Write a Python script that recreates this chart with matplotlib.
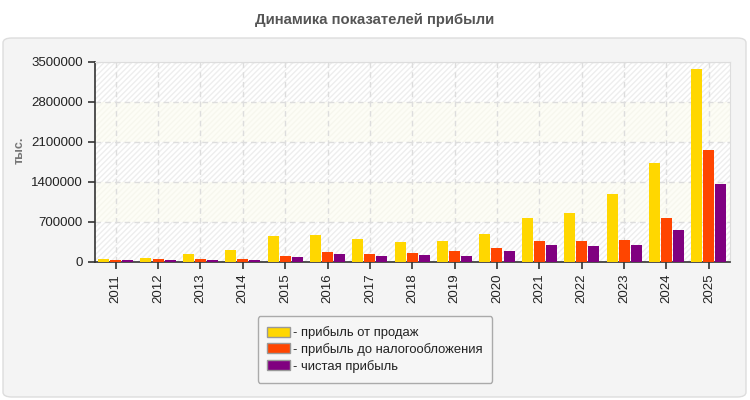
import matplotlib.pyplot as plt
from matplotlib.patches import FancyBboxPatch, Patch
import numpy as np

years = [2011, 2012, 2013, 2014, 2015, 2016, 2017, 2018, 2019, 2020,
         2021, 2022, 2023, 2024, 2025]
sales_profit = [58000, 76000, 146000, 216000, 461000, 478000, 408000, 356000,
                373000, 496000, 776000, 863000, 1196000, 1738000, 3383000]
pretax_profit = [41000, 58000, 58000, 58000, 111000, 181000, 146000, 163000,
                 198000, 251000, 373000, 373000, 391000, 776000, 1966000]
net_profit = [41000, 41000, 41000, 41000, 93000, 146000, 111000, 128000,
              111000, 198000, 303000, 286000, 303000, 566000, 1371000]
series_names = ["- прибыль от продаж", "- прибыль до налогообложения", "- чистая прибыль"]
colors = ["#FFD700", "#FF4500", "#800080"]
yticks = [0, 700000, 1400000, 2100000, 2800000, 3500000]

plt.rcParams['font.family'] = ['Liberation Sans', 'DejaVu Sans']

fig = plt.figure(figsize=(7.5, 4), dpi=100)
fig.patch.set_facecolor("white")

# серая подложка с закруглёнными углами
panel = FancyBboxPatch((3 / 750, 3 / 400), 743 / 750, 359 / 400,
                       boxstyle="round,pad=0,rounding_size=0.012",
                       transform=fig.transFigure, facecolor="#f4f4f4",
                       edgecolor="#dddddd", linewidth=1, zorder=-10)
fig.patches.append(panel)

fig.text(0.5, 1 - 20 / 400, "Динамика показателей прибыли", ha="center", va="center",
         fontsize=10.7, fontweight="bold", color="#555555")

ax = fig.add_axes([94.5 / 750, 1 - 262 / 400, 635.5 / 750, 200 / 400])
ax.set_facecolor("white")

# полосы фона: штриховка и светло-жёлтые
for i in range(len(yticks) - 1):
    if i % 2 == 0:
        ax.axhspan(yticks[i], yticks[i + 1], facecolor="white", edgecolor="#eeeeee",
                   hatch="//////", linewidth=0, zorder=0)
    else:
        ax.axhspan(yticks[i], yticks[i + 1], facecolor="#fdfdf6", edgecolor="#f7f7ee",
                   hatch="//////", linewidth=0, zorder=0)

x = np.arange(len(years))
w = 0.26
step = 0.285
for k, vals in enumerate([sales_profit, pretax_profit, net_profit]):
    ax.bar(x + (k - 1) * step, vals, width=w, color=colors[k], zorder=3)

ax.set_xlim(-0.5, len(years) - 0.5)
ax.set_ylim(0, 3500000)
ax.set_yticks(yticks)
ax.set_yticklabels([str(v) for v in yticks])
ax.set_xticks(x)
ax.set_xticklabels([str(y) for y in years], rotation=90)
ax.tick_params(axis="both", labelsize=9.5, colors="#333333", length=5, width=1.2, labelcolor="#222222")

ax.grid(True, color="#dddddd", linestyle=(0, (4, 3)), linewidth=1, zorder=1)
ax.set_axisbelow(True)

for s in ["top", "right"]:
    ax.spines[s].set_color("#dddddd")
for s in ["left", "bottom"]:
    ax.spines[s].set_color("#333333")
    ax.spines[s].set_linewidth(1.2)

ax.set_ylabel("тыс.", fontsize=9, fontweight="bold", color="#777777")
ax.yaxis.set_label_coords(-0.108, 0.56)

handles = [Patch(facecolor=c, edgecolor="#999999", linewidth=1) for c in colors]
leg = fig.legend(handles, series_names, loc="center", bbox_to_anchor=(375 / 750, 1 - 349.5 / 400),
                 fontsize=9.4, frameon=True, fancybox=True, handlelength=1.7, handleheight=0.8,
                 handletextpad=0.25, labelspacing=0.3, borderpad=0.75)
leg.get_frame().set_facecolor("#f6f6f6")
leg.get_frame().set_edgecolor("#aaaaaa")
leg.get_frame().set_alpha(1)
for t in leg.get_texts():
    t.set_color("#222222")

fig.savefig("out.png", dpi=100)
